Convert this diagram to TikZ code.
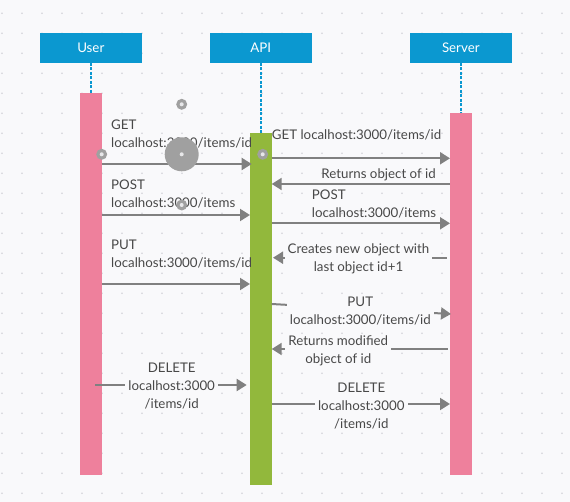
\documentclass[tikz,border=0pt]{standalone}
\usepackage{fontspec}
\setmainfont{Lato}
\usetikzlibrary{arrows.meta}
\definecolor{canvas}{RGB}{249,249,251}
\definecolor{griddot}{RGB}{210,210,216}
\definecolor{headblue}{RGB}{11,152,208}
\definecolor{barpink}{RGB}{238,128,156}
\definecolor{bargreen}{RGB}{146,184,60}
\definecolor{msggray}{RGB}{128,128,128}
\definecolor{txtgray}{RGB}{72,72,72}
\definecolor{handlegray}{RGB}{160,160,160}
\tikzset{
	header/.style={fill=headblue,text=white,minimum width=101.7pt,minimum height=29.4pt,inner sep=0pt,font=\fontsize{13.3}{18}\selectfont},
	actbar/.style={minimum width=21.7pt,inner sep=0pt,anchor=north},
	lifeline/.style={headblue,line width=2pt,dash pattern=on 3pt off 1.5pt},
	msg/.style={msggray,line width=2pt,-{Triangle[length=10pt,width=12pt]}},
	msglabel/.style={text=txtgray,inner sep=0pt,yshift=-1.5pt,font=\fontsize{13.3}{18}\selectfont},
	boxlabel/.style={msglabel,fill=canvas,inner xsep=3pt,inner ysep=1pt,align=center},
	handle/.style={circle,fill=handlegray,inner sep=0pt,minimum size=11pt},
	handledot/.style={circle,fill=canvas!80!handlegray,inner sep=0pt,minimum size=4pt}
}
\begin{document}
\begin{tikzpicture}[x=1pt,y=-1pt]
			%Canvas with dotted grid
			\fill[canvas] (0,0) rectangle (570,502);
			\useasboundingbox (0,0) rectangle (570,502);
			\foreach \x in {2,22,...,562} {
				\foreach \y in {13.3,33.3,...,493.3} {
					\fill[griddot] (\x,\y) circle (0.9pt);
				}
			}
			%Headers
			\node [header] (user) at (90.8,48) {User};
			\node [header] (api) at (260.8,48) {API};
			\node [header] (server) at (460.8,48) {Server};
			%Activation bars
			\node [actbar,fill=barpink,minimum height=381.7pt] (userbar) at (90.8,93.3) {};
			\node [actbar,fill=bargreen,minimum height=351.7pt] (apibar) at (260.8,133.3) {};
			\node [actbar,fill=barpink,minimum height=361.7pt] (serverbar) at (460.8,113.3) {};
			%Lifelines
			\draw [lifeline] (user.south) -- (userbar.north);
			\draw [lifeline] (api.south) -- (apibar.north);
			\draw [lifeline] (server.south) -- (serverbar.north);
			%Message end points
			\coordinate (get1s) at (101.7,164);
			\coordinate (get1e) at (251.7,164);
			\coordinate (get2s) at (271.7,158.3);
			\coordinate (get2e) at (450,158.3);
			\coordinate (ret1s) at (450,184);
			\coordinate (ret1e) at (271.7,184);
			\coordinate (post1s) at (101.7,215);
			\coordinate (post1e) at (250,215);
			\coordinate (post2s) at (271.7,223.3);
			\coordinate (post2e) at (450,223.3);
			\coordinate (ret2s) at (446.7,257.7);
			\coordinate (ret2e) at (273,257.7);
			\coordinate (put1s) at (101.7,284);
			\coordinate (put1e) at (250,284);
			\coordinate (put2s) at (271.7,304);
			\coordinate (put2e) at (451,314);
			\coordinate (ret3s) at (447.7,349);
			\coordinate (ret3e) at (271.7,349);
			\coordinate (del1s) at (95,385);
			\coordinate (del1e) at (246.7,385);
			\coordinate (del2s) at (271.7,404);
			\coordinate (del2e) at (450,404);
			%Messages
			\draw [msg] (get1s) -- (get1e);
			\draw [msg] (get2s) -- (get2e);
			\draw [msg] (ret1s) -- (ret1e);
			\draw [msg] (post1s) -- (post1e);
			\draw [msg] (post2s) -- (post2e);
			\draw [msg] (ret2s) -- (ret2e);
			\draw [msg] (put1s) -- (put1e);
			\draw [msg] (put2s) -- (put2e);
			\draw [msg] (ret3s) -- (ret3e);
			\draw [msg] (del1s) -- (del1e);
			\draw [msg] (del2s) -- (del2e);
			%Labels User to API
			\node [msglabel,anchor=west,align=left] (get1) at (111,132.2) {GET\\localhost:3000/items/id};
			\node [msglabel,anchor=west,align=left] (post1) at (111,192.5) {POST\\localhost:3000/items};
			\node [msglabel,anchor=west,align=left] (put1) at (111,252.2) {PUT\\localhost:3000/items/id};
			\node [boxlabel] (del1) at (171.7,385) {DELETE\\localhost:3000\\/items/id};
			%Labels API to Server
			\node [msglabel,anchor=west] (get2) at (271.7,133.3) {GET localhost:3000/items/id};
			\node [msglabel,anchor=east] (ret1) at (436,173.3) {Returns object of id};
			\node [msglabel,anchor=west,align=left] (post2) at (311.7,202.5) {POST\\localhost:3000/items};
			\node [boxlabel] (ret2) at (358.5,257.5) {Creates new object with\\last object id+1};
			\node [boxlabel] (put2) at (360.3,309.2) {PUT\\localhost:3000/items/id};
			\node [boxlabel] (ret3) at (338.3,349.5) {Returns modified\\object of id};
			\node [boxlabel] (del2) at (361.3,404.2) {DELETE\\localhost:3000\\/items/id};
			%Selection handles
			\node [handle,minimum size=34pt] (hbig) at (181.7,154.3) {};
			\node [handledot] at (hbig) {};
			\foreach \n/\p in {htop/{181.7,104.3},hleft/{101.7,154.3},hright/{262.7,154.3},hbot/{181.7,205}} {
				\node [handle] (\n) at (\p) {};
				\node [handledot] at (\n) {};
			}
\end{tikzpicture}
\end{document}
